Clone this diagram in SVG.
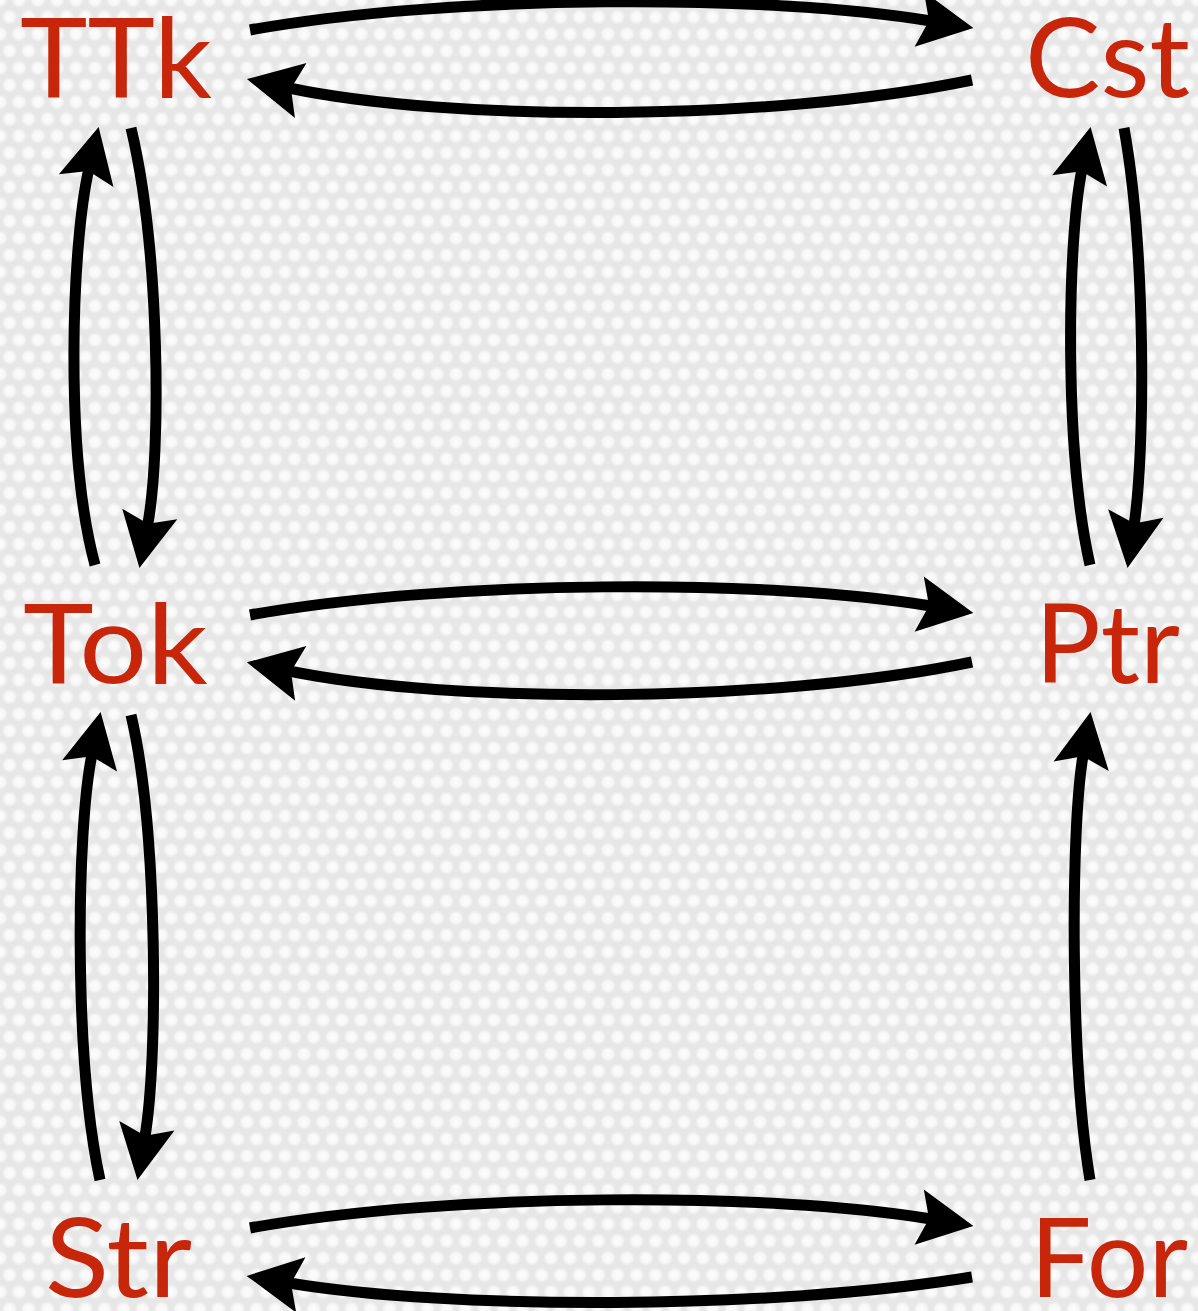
<svg xmlns="http://www.w3.org/2000/svg" width="1198" height="1311" viewBox="0 0 1198 1311">
<style>
.lbl{font-family:Lato,"Open Sans","Liberation Sans",sans-serif;font-size:110px;fill:#c8260a;}
.arr{fill:none;stroke:#000;stroke-width:11;marker-end:url(#ah);}
</style>
<defs>
<radialGradient id="dotg">
<stop offset="0" stop-color="#fdfdfd"/>
<stop offset="0.55" stop-color="#f8f8f8"/>
<stop offset="1" stop-color="#e7e7e7"/>
</radialGradient>
<pattern id="dots" width="19" height="34" patternUnits="userSpaceOnUse">
<rect width="19" height="34" fill="#e7e7e7"/>
<circle cx="0" cy="0" r="8" fill="url(#dotg)"/>
<circle cx="19" cy="0" r="8" fill="url(#dotg)"/>
<circle cx="0" cy="34" r="8" fill="url(#dotg)"/>
<circle cx="19" cy="34" r="8" fill="url(#dotg)"/>
<circle cx="9.5" cy="17" r="8" fill="url(#dotg)"/>
</pattern>
<marker id="ah" markerUnits="userSpaceOnUse" markerWidth="120" markerHeight="120" refX="0" refY="0" orient="auto" overflow="visible">
<path d="M43,0 L-12,-28 L-2,0 L-12,28 Z" fill="#000"/>
</marker>
</defs>
<rect width="1198" height="1311" fill="url(#dots)"/>
<g id="connectors">
<path class="arr" d="M250,30 C450,-6 770,-6 931,21"/>
<path class="arr" d="M972,80 C770,122 450,122 289,88"/>
<path class="arr" d="M250,615 C450,579 770,579 931,606"/>
<path class="arr" d="M972,662 C770,704 450,704 289,671"/>
<path class="arr" d="M250,1228 C450,1192 770,1192 931,1219"/>
<path class="arr" d="M972,1277 C770,1310 450,1310 289,1283"/>
<path class="arr" d="M131,128 C160,250 161.6,452 147.5,525.7"/>
<path class="arr" d="M95,565 C64,450 71.9,242 88.9,169"/>
<path class="arr" d="M131,715 C158,830 158.4,1058.8 144.8,1137.6"/>
<path class="arr" d="M100,1180 C74,1060 76,832.6 92,754.2"/>
<path class="arr" d="M1124,128 C1146,250 1145.3,451.2 1134,525.4"/>
<path class="arr" d="M1090,565 C1064,450 1067,242.7 1082,169.2"/>
<path class="arr" d="M1090,1180 C1070,1060 1070.4,828.3 1083.2,754.4"/>
</g>
<g id="TTk"><text class="lbl" x="20" y="97" textLength="192" lengthAdjust="spacingAndGlyphs">TTk</text></g>
<g id="Cst"><text class="lbl" x="1025" y="97" textLength="165" lengthAdjust="spacingAndGlyphs">Cst</text></g>
<g id="Tok"><text class="lbl" x="23" y="683" textLength="185" lengthAdjust="spacingAndGlyphs">Tok</text></g>
<g id="Ptr"><text class="lbl" x="1035" y="683" textLength="145" lengthAdjust="spacingAndGlyphs">Ptr</text></g>
<g id="Str"><text class="lbl" x="45" y="1297" textLength="147" lengthAdjust="spacingAndGlyphs">Str</text></g>
<g id="For"><text class="lbl" x="1030" y="1297" textLength="158" lengthAdjust="spacingAndGlyphs">For</text></g>
</svg>
